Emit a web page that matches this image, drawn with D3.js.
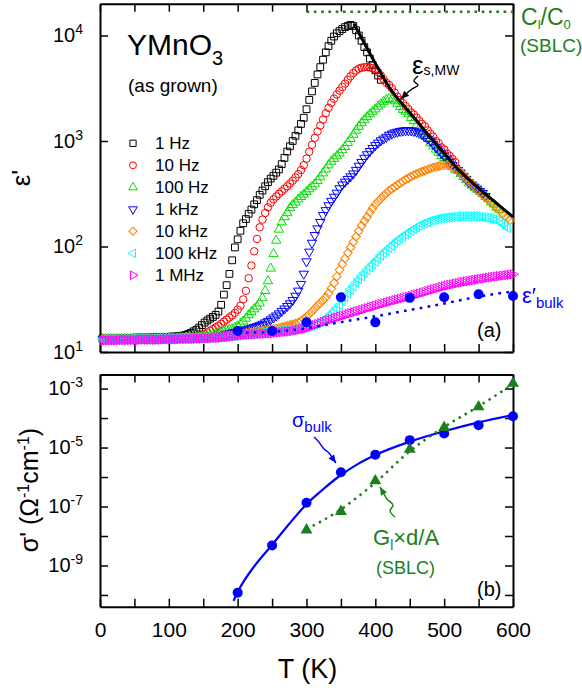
<!DOCTYPE html>
<html>
<head>
<meta charset="utf-8">
<script src="https://cdn.jsdelivr.net/npm/d3@7"></script>
<style>
  body { margin: 0; background: #fff; }
  svg { display: block; }
  text { font-family: "Liberation Sans", Arial, Helvetica, sans-serif; }
</style>
</head>
<body>
<svg id="chart" width="582" height="691"></svg>
<script>
// ---------------- data ----------------
// measurement temperatures (K), shared by all frequency sweeps
const tempGrid = d3.range(4, 601, 4);

// dielectric constant eps' for each frequency, starting at 4 K, step 4 K
const eps1Hz = [
  13.5,13.5,13.5,13.5,13.5,13.5,13.6,13.6,13.6,13.6,
  13.6,13.6,13.7,13.7,13.7,13.7,13.7,13.7,13.8,13.8,
  13.8,13.8,13.9,13.9,13.9,14.0,14.0,14.1,14.2,14.3,
  14.5,14.8,15.2,15.7,16.3,17.0,18.0,19.0,19.9,20.7,
  21.5,22.5,24.2,28,35,43,55,74,98,117,
  141,166,182,204,224,251,275,309,339,372,
  407,440,468,501,537,603,692,794,891,1000,
  1120,1260,1450,1660,2000,2450,2950,3550,4270,5010,
  5890,6920,7940,8910,9770,10500,11000,11500,12000,12300,
  12600,12300,11200,10000,8910,7760,6920,6030,5250,4680,
  4170,3800];
const eps10Hz = [
  13.3,13.3,13.3,13.3,13.3,13.3,13.3,13.3,13.3,13.3,
  13.4,13.4,13.4,13.4,13.4,13.4,13.4,13.4,13.4,13.4,
  13.5,13.5,13.5,13.5,13.5,13.5,13.5,13.5,13.6,13.6,
  13.6,13.6,13.7,13.8,13.9,14.1,14.4,14.8,15.3,15.9,
  16.5,17.1,17.7,18.5,19.4,20.3,21.2,22.2,23.5,25.2,
  27.5,31.5,38,50,66,90,118,152,180,208,
  235,260,280,298,316,333,352,372,395,420,
  450,485,530,590,680,790,920,1070,1230,1400,
  1600,1830,2060,2300,2520,2760,3000,3250,3500,3800,
  4100,4400,4650,4850,4950,5000,5020,4980,4900,4750,
  4500,4180,3850,3550,3390,3160,2880,2630,2450,2290,
  2140,2000,1860,1780,1660,1550,1450,1380,1260,1170,
  1100,1000,955,870,832,760,724,676,631];
const eps100Hz = [
  13.3,13.3,13.3,13.3,13.3,13.3,13.3,13.3,13.3,13.3,
  13.4,13.4,13.4,13.4,13.4,13.4,13.4,13.4,13.4,13.4,
  13.5,13.5,13.5,13.5,13.5,13.5,13.5,13.5,13.6,13.6,
  13.6,13.6,13.6,13.6,13.7,13.8,13.9,14.0,14.1,14.3,
  14.5,14.8,15.1,15.4,15.7,16.0,16.3,16.6,17.0,17.6,
  18.5,19.5,20.8,22.4,24.0,25.5,27,29,32.5,38,
  47,62,85,114,145,170,190,208,232,248,
  262,280,296,312,330,350,370,390,420,455,
  495,540,590,640,680,720,765,820,880,960,
  1050,1150,1260,1370,1480,1580,1690,1800,1900,2000,
  2120,2230,2360,2450,2510,2480,2390,2260,2110,1980,
  1900,1800,1660,1550,1410,1320,1230,1120,1050,955,
  891,832,776,724,692,646,617,575,537,525,
  490,457,427,398,380,363,347,331,316,295,
  282,263,251,234,224];
const eps1kHz = [
  13.3,13.3,13.3,13.3,13.3,13.3,13.3,13.3,13.3,13.3,
  13.4,13.4,13.4,13.4,13.4,13.4,13.4,13.4,13.4,13.4,
  13.5,13.5,13.5,13.5,13.5,13.5,13.5,13.5,13.6,13.6,
  13.6,13.6,13.6,13.6,13.7,13.7,13.7,13.7,13.8,13.9,
  14.0,14.1,14.2,14.4,14.6,14.8,15.0,15.2,15.4,15.6,
  15.8,16.0,16.3,16.6,16.9,17.2,17.5,17.9,18.4,19.0,
  19.6,20.3,21.2,22.1,23.1,24.4,25.7,27.2,28.8,31,
  34,38,44,55,72,89,108,128,148,170,
  198,220,245,270,295,322,355,385,410,435,
  460,490,530,580,630,690,745,800,855,910,
  960,1010,1050,1090,1140,1170,1200,1220,1240,1250,
  1260,1260,1255,1240,1220,1190,1150,1100,1050,1000,
  930,870,810,760,715,670,630,590,555,530,
  500,465,435,405,385,368,352,335,320,300];
const eps10kHz = [
  13.3,13.3,13.3,13.3,13.3,13.3,13.3,13.3,13.3,13.3,
  13.4,13.4,13.4,13.4,13.4,13.4,13.4,13.4,13.4,13.4,
  13.5,13.5,13.5,13.5,13.5,13.5,13.5,13.5,13.6,13.6,
  13.6,13.6,13.6,13.6,13.7,13.7,13.7,13.7,13.8,13.8,
  13.8,13.9,14.0,14.1,14.2,14.3,14.4,14.5,14.6,14.7,
  14.8,14.9,15.0,15.1,15.3,15.4,15.6,15.7,15.9,16.0,
  16.2,16.3,16.5,16.7,16.9,17.2,17.4,17.7,18.0,18.3,
  18.6,19.0,19.6,20.5,21.5,22.8,24.2,25.8,27.5,29.2,
  31,33,36,40,45,52,60,68,77,87,
  98,110,124,140,157,174,190,210,230,250,
  267,284,302,320,338,352,367,382,398,414,
  430,445,460,474,488,500,512,524,537,549,
  560,570,578,585,588,588,582,570,550,525,
  500,470,442,415,390,366,344,325,308,292,
  278,264,250,236,222,208,196,186,178];
const eps100kHz = [
  13.2,13.2,13.2,13.2,13.2,13.2,13.2,13.2,13.2,13.2,
  13.3,13.3,13.3,13.3,13.3,13.3,13.3,13.3,13.3,13.3,
  13.4,13.4,13.4,13.4,13.4,13.4,13.4,13.4,13.5,13.5,
  13.5,13.5,13.5,13.5,13.6,13.6,13.6,13.6,13.7,13.7,
  13.7,13.7,13.8,13.8,13.8,13.9,14.0,14.1,14.2,14.3,
  14.4,14.5,14.6,14.7,14.8,14.9,15.0,15.1,15.2,15.3,
  15.4,15.5,15.6,15.7,15.8,15.9,16.0,16.1,16.2,16.3,
  16.4,16.5,16.7,16.9,17.1,17.4,17.7,18.1,18.6,19.2,
  20.0,20.8,21.8,23.0,24.5,26,28,30.5,33,36,
  39,42,45.5,49,52.5,56,60,64,68,72,
  77,82,87,92,97,102,108,114,119,125,
  130,135,141,147,152,157,162,166,170,174,
  177,180,183,185,187,188,189,190,191,192,
  192,193,193,193,193,193,192,191,190,188,
  186,184,181,178,173,166,158,150];
const eps1MHz = [
  12.9,12.9,12.9,12.9,12.9,12.9,13.0,13.0,13.0,13.0,
  13.0,13.0,13.0,13.0,13.1,13.1,13.1,13.1,13.1,13.1,
  13.1,13.1,13.2,13.2,13.2,13.2,13.2,13.2,13.3,13.3,
  13.3,13.3,13.3,13.4,13.4,13.4,13.4,13.5,13.5,13.5,
  13.6,13.6,13.6,13.7,13.8,13.9,14.0,14.1,14.2,14.3,
  14.4,14.5,14.6,14.6,14.7,14.7,14.8,14.8,14.9,14.9,
  15.0,15.0,15.1,15.2,15.3,15.4,15.5,15.6,15.7,15.8,
  16.0,16.2,16.4,16.6,16.9,17.2,17.6,18.0,18.4,18.8,
  19.2,19.6,20.0,20.4,20.8,21.2,21.6,22.0,22.4,22.9,
  23.3,23.7,24.2,24.6,25.1,25.5,26.0,26.5,26.9,27.4,
  27.9,28.4,28.9,29.4,29.9,30.4,30.9,31.4,31.9,32.4,
  32.9,33.4,34.0,34.6,35.2,35.8,36.4,37.1,37.8,38.5,
  39.2,39.9,40.6,41.3,42.0,42.6,43.2,43.8,44.4,45.0,
  45.6,46.1,46.6,47.1,47.6,48.1,48.6,49.1,49.6,50.1,
  50.6,51.1,51.6,52.0,52.4,52.8,53.2,53.6,54.0,54.4];

const freqLabels = ["1 Hz", "10 Hz", "100 Hz", "1 kHz", "10 kHz", "100 kHz", "1 MHz"];

// static Maxwell-Wagner dielectric constant (fit line)
const mwT   = [369, 383, 397, 409, 421, 432, 442, 460, 479, 499, 519, 537, 556, 578, 600];
const mwEps = [12900, 8700, 5900, 4300, 3160, 2550, 2140, 1560, 1100, 780, 550, 425, 330, 251, 191];

// surface barrier layer capacitance level C_l/C_0
const clT   = [300, 600];
const clEps = [16800, 16800];

// bulk dielectric constant from the equivalent-circuit fits
const bulkT      = [200, 250, 300, 350, 400, 450, 500, 550, 600];
const bulkEps    = [15.8, 15.8, 19.1, 33, 19.1, 32.6, 33, 35.3, 34];
const bulkFitEps = [15.2, 15.5, 16.8, 19.2, 21.8, 25.0, 28.8, 33.5, 37.5];

// conductivities (Ohm^-1 cm^-1)
const sigmaT      = [200, 250, 300, 350, 400, 450, 500, 550, 600];
const sigmaBulk   = [1.2e-10, 4.8e-9, 1.35e-7, 1.45e-6, 5.75e-6, 1.78e-5, 3.0e-5, 5.75e-5, 1.15e-4];
const sigmaFitT   = [194, 200, 210, 225, 250, 275, 300, 325, 350, 375, 400, 450, 500, 550, 600];
const sigmaFit    = [6.3e-11, 1.26e-10, 3.2e-10, 1.0e-9, 5.0e-9, 2.6e-8, 1.2e-7, 4.0e-7, 1.17e-6, 2.8e-6, 5.6e-6, 1.58e-5, 3.55e-5, 7.1e-5, 1.26e-4];
const glT         = [300, 350, 400, 450, 500, 550, 600];
const glSigma     = [1.6e-8, 6.8e-8, 7.4e-7, 8.7e-6, 4.8e-5, 2.4e-4, 1.5e-3];
const glFitSigma  = [1.7e-8, 8.0e-8, 6.5e-7, 7.5e-6, 5.0e-5, 2.5e-4, 1.4e-3];

// axis ticks
const xTickValues  = [0, 50, 100, 150, 200, 250, 300, 350, 400, 450, 500, 550, 600];
const xLabelValues = [0, 100, 200, 300, 400, 500, 600];
const epsTicks     = [10, 100, 1000, 10000];
const sigmaTicks   = [1e-10, 1e-9, 1e-8, 1e-7, 1e-6, 1e-5, 1e-4, 1e-3];
const sigmaLabels  = [1e-9, 1e-7, 1e-5, 1e-3];

// ---------------- drawing ----------------
const svg = d3.select("#chart");
const GREEN = "#1c7f1c";
const BLUE = "#0000ff";

const x  = d3.scaleLinear().domain([0, 600]).range([100, 513]);
const yE = d3.scaleLog().domain([10, 2e4]).range([352, 3.7]);
const yS = d3.scaleLog().domain([4e-11, 3e-3]).range([606.7, 374.5]);

function styleAxis(g) {
  g.attr("font-family", null).attr("font-size", null);
  g.select(".domain").attr("stroke", "#000").attr("stroke-width", 2);
  g.selectAll(".tick line").attr("stroke", "#000").attr("stroke-width", 1.5);
  g.selectAll(".tick text").attr("fill", "#000").attr("font-size", 21);
}

function powerLabels(g, shown) {
  g.selectAll(".tick text").each(function (d) {
    const t = d3.select(this).text(null).attr("font-size", 20);
    if (!shown.includes(d)) return;
    const e = Math.round(Math.log10(d));
    t.append("tspan").text("10");
    t.append("tspan").attr("font-size", 14).attr("dy", -8).text(e);
  });
}

function panel(y, tickVals, labelVals, withXLabels) {
  const [yb, yt] = y.range();
  const bottom = svg.append("g").attr("transform", `translate(0,${yb})`)
    .call(d3.axisBottom(x).tickValues(xTickValues).tickSize(-8).tickSizeOuter(0).tickPadding(15)
      .tickFormat(d => (withXLabels && xLabelValues.includes(d)) ? d : ""));
  styleAxis(bottom);
  const top = svg.append("g").attr("transform", `translate(0,${yt})`)
    .call(d3.axisTop(x).tickValues(xTickValues).tickSize(-8).tickSizeOuter(0).tickFormat(""));
  styleAxis(top);
  const left = svg.append("g").attr("transform", `translate(${x(0)},0)`)
    .call(d3.axisLeft(y).tickValues(tickVals).tickSize(-8).tickSizeOuter(0).tickPadding(17));
  styleAxis(left);
  powerLabels(left, labelVals);
  const right = svg.append("g").attr("transform", `translate(${x(600)},0)`)
    .call(d3.axisRight(y).tickValues(tickVals).tickSize(-8).tickSizeOuter(0).tickFormat(""));
  styleAxis(right);
}

panel(yE, epsTicks, epsTicks, false);
panel(yS, sigmaTicks, sigmaLabels, true);

// marker shapes for the frequency sweeps
const markers = [
  { color: "#000000", type: d3.symbolSquare,   size: 46, rot: 0 },
  { color: "#ff0000", type: d3.symbolCircle,   size: 44, rot: 0 },
  { color: "#00e000", type: d3.symbolTriangle, size: 38, rot: 0 },
  { color: "#0000ff", type: d3.symbolTriangle, size: 38, rot: 180 },
  { color: "#ff8000", type: d3.symbolSquare,   size: 38, rot: 45 },
  { color: "#00ffff", type: d3.symbolTriangle, size: 38, rot: -90 },
  { color: "#ff00ff", type: d3.symbolTriangle, size: 38, rot: 90 }
];
const sweeps = [eps1Hz, eps10Hz, eps100Hz, eps1kHz, eps10kHz, eps100kHz, eps1MHz];

const dataG = svg.append("g");
sweeps.forEach((vals, k) => {
  const m = markers[k];
  const path = d3.symbol(m.type, m.size)();
  dataG.append("g").selectAll("path")
    .data(vals.map((v, i) => [tempGrid[i], v]))
    .join("path")
    .attr("d", path)
    .attr("transform", d => `translate(${x(d[0])},${yE(d[1])}) rotate(${m.rot})`)
    .attr("fill", "none")
    .attr("stroke", m.color)
    .attr("stroke-width", 1);
});

// Maxwell-Wagner line
const lineE = d3.line().x(d => x(d[0])).y(d => yE(d[1])).curve(d3.curveMonotoneX);
svg.append("path")
  .attr("d", lineE(mwT.map((t, i) => [t, mwEps[i]])))
  .attr("fill", "none").attr("stroke", "#000").attr("stroke-width", 3);

// C_l/C_0 level
svg.append("path")
  .attr("d", lineE(clT.map((t, i) => [t, clEps[i]])))
  .attr("fill", "none").attr("stroke", GREEN).attr("stroke-width", 2.5)
  .attr("stroke-dasharray", "2.7,4.6");

// bulk eps' fit and points
svg.append("path")
  .attr("d", lineE(bulkT.map((t, i) => [t, bulkFitEps[i]])))
  .attr("fill", "none").attr("stroke", BLUE).attr("stroke-width", 2.5)
  .attr("stroke-dasharray", "2.7,5.3");
svg.append("g").selectAll("circle")
  .data(bulkT.map((t, i) => [t, bulkEps[i]]))
  .join("circle")
  .attr("cx", d => x(d[0])).attr("cy", d => yE(d[1])).attr("r", 5)
  .attr("fill", BLUE);

// conductivity panel
const lineS = d3.line().x(d => x(d[0])).y(d => yS(d[1])).curve(d3.curveMonotoneX);
svg.append("path")
  .attr("d", lineS(sigmaFitT.map((t, i) => [t, sigmaFit[i]])))
  .attr("fill", "none").attr("stroke", BLUE).attr("stroke-width", 2.2);
svg.append("path")
  .attr("d", lineS(glT.map((t, i) => [t, glFitSigma[i]])))
  .attr("fill", "none").attr("stroke", GREEN).attr("stroke-width", 2.5)
  .attr("stroke-dasharray", "2.5,4.5");
svg.append("g").selectAll("circle")
  .data(sigmaT.map((t, i) => [t, sigmaBulk[i]]))
  .join("circle")
  .attr("cx", d => x(d[0])).attr("cy", d => yS(d[1])).attr("r", 5)
  .attr("fill", BLUE);
const triPath = d3.symbol(d3.symbolTriangle, 62)();
svg.append("g").selectAll("path")
  .data(glT.map((t, i) => [t, glSigma[i]]))
  .join("path")
  .attr("d", triPath)
  .attr("transform", d => `translate(${x(d[0])},${yS(d[1])})`)
  .attr("fill", GREEN);

// legend
const legend = svg.append("g");
freqLabels.forEach((lab, k) => {
  const m = markers[k];
  const cy = 143.3 + 22 * k;
  legend.append("path")
    .attr("d", d3.symbol(m.type, m.size * 0.85)())
    .attr("transform", `translate(133,${cy}) rotate(${m.rot})`)
    .attr("fill", "none").attr("stroke", m.color).attr("stroke-width", 1);
  legend.append("text").attr("x", 155).attr("y", cy + 6)
    .attr("font-size", 17).text(lab);
});

// titles and annotations
function txt(xp, yp, size, color) {
  return svg.append("text").attr("x", xp).attr("y", yp)
    .attr("font-size", size).attr("fill", color || "#000");
}

const title = txt(127, 55, 30);
title.append("tspan").text("YMnO");
title.append("tspan").attr("font-size", 20).attr("dy", 10).text("3");
txt(128, 92, 19).text("(as grown)");

const mw = txt(412, 74, 26);
mw.append("tspan").text("ε");
mw.append("tspan").attr("font-size", 14).attr("dy", 1).text("s,MW");

const cl = txt(521, 25, 23, GREEN);
cl.append("tspan").text("C");
cl.append("tspan").attr("font-size", 13).attr("dy", 4).text("l");
cl.append("tspan").attr("dy", -4).text("/C");
cl.append("tspan").attr("font-size", 13).attr("dy", 4).text("0");
txt(520, 52, 19, GREEN).text("(SBLC)");

const eb = txt(522, 303, 22, BLUE);
eb.append("tspan").text("ε′");
eb.append("tspan").attr("font-size", 15).attr("dy", 5).text("bulk");

txt(477, 337, 20).text("(a)");
txt(477, 596, 20).text("(b)");

const sb = txt(292, 427, 20, BLUE);
sb.append("tspan").text("σ");
sb.append("tspan").attr("font-size", 15).attr("dy", 5).text("bulk");

const gl = txt(373, 545, 22, GREEN);
gl.append("tspan").text("G");
gl.append("tspan").attr("font-size", 14).attr("dy", 5).text("l");
gl.append("tspan").attr("dy", -5).text("×d/A");
txt(376, 574, 18, GREEN).text("(SBLC)");

// axis titles
svg.append("text").attr("transform", "translate(30,178) rotate(-90)")
  .attr("text-anchor", "middle").attr("font-size", 26).text("ε'");
const sl = svg.append("text").attr("transform", "translate(38,490) rotate(-90)")
  .attr("text-anchor", "middle").attr("font-size", 25);
sl.append("tspan").text("σ' (Ω");
sl.append("tspan").attr("font-size", 16).attr("dy", -9).text("-1");
sl.append("tspan").attr("dy", 9).text("cm");
sl.append("tspan").attr("font-size", 16).attr("dy", -9).text("-1");
sl.append("tspan").attr("dy", 9).text(")");
svg.append("text").attr("x", 307.5).attr("y", 678)
  .attr("text-anchor", "middle").attr("font-size", 27).text("T (K)");

// curly pointer arrows
function curlyArrow(pts, color) {
  const l = d3.line().curve(d3.curveCatmullRom);
  svg.append("path").attr("d", l(pts)).attr("fill", "none")
    .attr("stroke", color).attr("stroke-width", 1.4);
  const [a, b] = [pts[pts.length - 2], pts[pts.length - 1]];
  const ang = Math.atan2(b[1] - a[1], b[0] - a[0]);
  const L = 8, w = 3.5;
  const p1 = [b[0] - L * Math.cos(ang) + w * Math.sin(ang), b[1] - L * Math.sin(ang) - w * Math.cos(ang)];
  const p2 = [b[0] - L * Math.cos(ang) - w * Math.sin(ang), b[1] - L * Math.sin(ang) + w * Math.cos(ang)];
  svg.append("path").attr("d", `M${b[0]},${b[1]}L${p1[0]},${p1[1]}L${p2[0]},${p2[1]}Z`).attr("fill", color);
}
curlyArrow([[418, 76], [414, 81], [418, 85], [412, 89], [407, 93], [401, 99]], "#000");
curlyArrow([[314, 437], [318, 441], [321, 445], [324, 449], [328, 452], [336, 463]], BLUE);
curlyArrow([[395, 517], [390, 511], [393, 505], [387, 499], [384, 494], [380, 487]], GREEN);
</script>
</body>
</html>
